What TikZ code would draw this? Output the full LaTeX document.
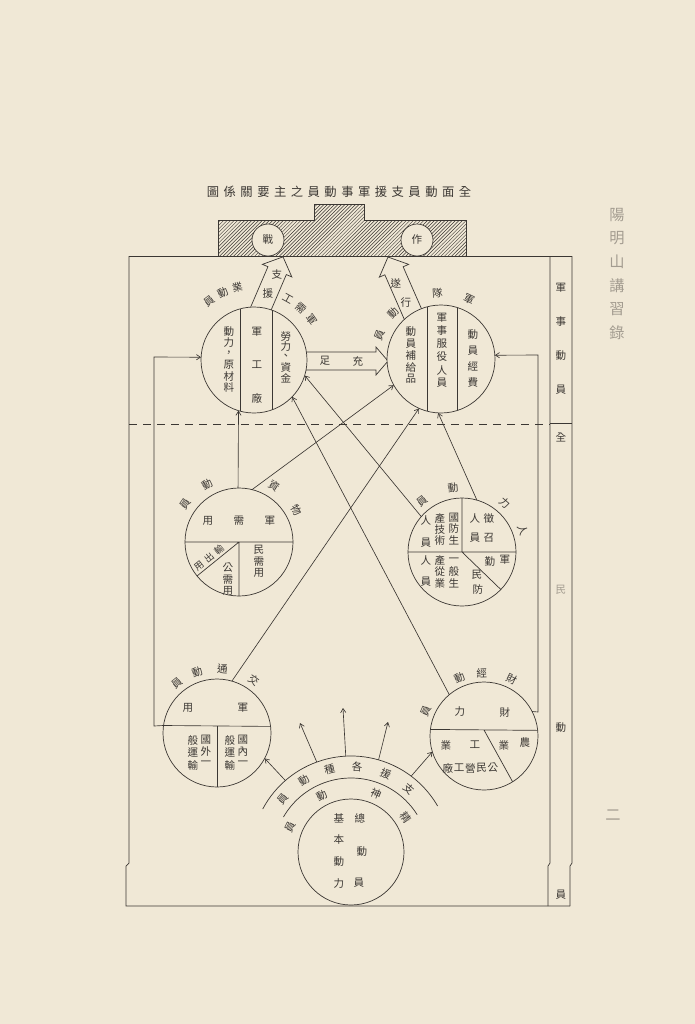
\documentclass[tikz,border=0pt]{standalone}
\usepackage{fontspec}
\newfontfamily\cjk{Noto Sans CJK TC}
\usetikzlibrary{arrows.meta,patterns}
\definecolor{paper}{HTML}{F0E8D6}
\definecolor{ink}{HTML}{3B3733}
\definecolor{faint}{HTML}{A39C90}

\tikzset{
  ring/.style={circle, draw=ink, fill=paper, line width=0.6pt, inner sep=0pt, outer sep=0pt, minimum size=#1*0.6mm},
  txt/.style={font=\cjk\fontsize{9}{9}\selectfont, text=ink, inner sep=0pt},
  smalltxt/.style={font=\cjk\fontsize{8}{8}\selectfont, text=ink, inner sep=0pt},
  ttl/.style={font=\cjk\fontsize{10.5}{10.5}\selectfont, text=ink, inner sep=0pt},
  margintxt/.style={font=\cjk\fontsize{13}{13}\selectfont, text=faint, inner sep=0pt},
  conn/.style={ink, line width=0.55pt, -{Straight Barb[length=3.5pt,width=4.5pt]}},
  plain/.style={ink, line width=0.6pt},
}

% label on a circle: name, centre, angle, radius, character
\newcommand\alab[5]{\node[txt, rotate={#3-90}] (#1) at ([shift={({-(#3)}:#4)}]#2.center) {#5};}
% vertical column: prefix, x, first y, step, characters
\newcommand\vcol[5]{\foreach \ch [count=\k from 0] in {#5} {\node[txt] (#1\k) at (#2,{#3+#4*\k}) {\ch};}}
% horizontal row: prefix, first x, y, step, characters
\newcommand\hrow[5]{\foreach \ch [count=\k from 0] in {#5} {\node[txt] (#1\k) at ({#2+#4*\k},#3) {\ch};}}
% hollow broad arrow: tail x, tail y, angle, length, shaft half width, head half width, head length
\newcommand\fatarrow[7]{\draw[plain, fill=paper, shift={(#1,#2)}, rotate=#3]
  (0,-#5) -- ({#4-#7},-#5) -- ({#4-#7},-#6) -- (#4,0) -- ({#4-#7},#6) -- ({#4-#7},#5) -- (0,#5) -- cycle;}

\begin{document}
\begin{tikzpicture}[x=0.3mm,y=-0.3mm]
\useasboundingbox[fill=paper] (0,0) rectangle (695,1024);

% title and page margin
\foreach \ch [count=\k from 0] in {圖,係,關,要,主,之,員,動,事,軍,援,支,員,動,面,全}
  \node[ttl] (t\k) at ({213+16.8*\k},192) {\ch};
\foreach \ch [count=\k from 0] in {陽,明,山,講,習,錄}
  \node[margintxt] (m\k) at (617,{215+23.5*\k}) {\ch};
\node[margintxt] (pg) at (613,815) {二};

% frame
\draw[plain] (129,256) -- (572,256);
\draw[plain] (129,256) -- (129,863) -- (126,866) -- (126,906) -- (570,906);
\draw[plain] (550,256) -- (550,863) -- (548,866) -- (548,906);
\draw[plain] (572,256) -- (572,863) -- (570,866) -- (570,906);
\draw[plain] (550,423) -- (572,423);
\draw[plain, dash pattern=on 2.4mm off 1.8mm] (129,424) -- (550,424);

% right column
\vcol{ca}{561}{288}{34}{軍,事,動,員}
\node[txt] (cb0) at (561,437) {全};
\node[txt, text=faint] (cb1) at (561,590) {民};
\node[txt] (cb2) at (561,728) {動};
\node[txt] (cb3) at (561,895) {員};

% broad arrows
\fatarrow{259.4}{312}{66.8}{60}{10}{16}{15}
\fatarrow{414.4}{317.5}{113.6}{66}{10}{16}{15}
\fatarrow{300}{361}{0}{88}{9}{14}{12}
\node[txt] (a1) at (277,274) {支};
\node[txt] (a2) at (268,294) {援};
\node[txt] (a3) at (396,283) {遂};
\node[txt] (a4) at (406,302) {行};
\node[txt] (a5) at (325,361) {足};
\node[txt] (a6) at (358,361) {充};

% combat block
\draw[plain, preaction={fill=paper}, pattern=north east lines, pattern color=ink]
  (218,256) -- (218,220) -- (314,220) -- (314,204) -- (364,204) -- (364,220) -- (466,220) -- (466,256) -- cycle;
\node[ring=16, txt] (zhan) at (268,240) {戰};
\node[ring=16, txt] (zuo) at (417,240) {作};

% circles
\node[ring=53] (GY) at (254,360) {};
\node[ring=54] (JD) at (441,359) {};
\node[ring=54] (WZ) at (239,542) {};
\node[ring=54] (RL) at (462,552) {};
\node[ring=54] (JT) at (217,733) {};
\node[ring=54] (CJ) at (484,736) {};
\node[ring=53] (ZD) at (351,852) {};

% bands round the base circle
\coordinate (rc) at (351,856);
\draw[plain] ([shift={(-152:100)}]rc) arc[start angle=-152, end angle=-30, radius=100];
\draw[plain] ([shift={(-150:78)}]rc) arc[start angle=-150, end angle=-32, radius=78];

% dividing lines inside circles
\draw[plain] (GY.105.3) -- (GY.-105.3) (GY.70.1) -- (GY.-70.1);
\draw[plain] (JD.105) -- (JD.-105) (JD.72.8) -- (JD.-72.8);
\draw[plain] (WZ.180) -- (WZ.0) (WZ.center) -- (WZ.270) (WZ.center) -- (WZ.219);
\draw[plain] (RL.90) -- (RL.center) (RL.180) -- (RL.0) (RL.center) -- (RL.-44);
\draw[plain] (217,726) -- (JT.270);
\draw[plain] (CJ.173.6) -- (CJ.6.4) (484,730) -- (CJ.-58);

% connectors
\coordinate (lb) at (154,726);
\coordinate (lt) at (154,357);
\coordinate (rb) at (538,712);
\coordinate (rt) at (538,355);
\coordinate (f1) at (300,723);
\coordinate (f2) at (343,708);
\coordinate (f3) at (388,722);
\draw[conn] (JT.7.5) -- (JT.172.5) -- (lb) -- (lt) -- (GY.177);
\draw[conn] (CJ.27) -- (rb) -- (rt) -- (JD.4);
\draw[conn] (WZ.91) -- (GY.253);
\draw[conn] (WZ.76) -- (JD.209);
\draw[conn] (JT.74) -- (JD.246);
\draw[conn] (RL.139) -- (GY.-17);
\draw[conn] (RL.74) -- (JD.267);
\draw[conn] (CJ.130) -- (GY.-44);
\draw[conn] ([shift={(-131:100)}]rc) -- (JT.-28);
\draw[conn] ([shift={(-110:100)}]rc) -- (f1);
\draw[conn] ([shift={(-93:100)}]rc) -- (f2);
\draw[conn] ([shift={(-74:100)}]rc) -- (f3);
\draw[conn] ([shift={(-53:100)}]rc) -- (CJ.197);

% military industry
\alab{g1}{GY}{127}{74}{員} \alab{g2}{GY}{115}{74}{動} \alab{g3}{GY}{103}{74}{業}
\alab{g4}{GY}{61}{70}{工} \alab{g5}{GY}{48}{70}{需} \alab{g6}{GY}{35}{70}{軍}
\vcol{gl}{229}{332}{11}{動,力,，,原,材,料}
\vcol{gm}{257}{332}{33}{軍,工,廠}
\vcol{gr}{286}{336}{10.5}{勞,力,、,資,金}

% armed forces
\alab{j1}{JD}{159}{66}{員} \alab{j2}{JD}{136}{66}{動}
\alab{j3}{JD}{93}{66}{隊} \alab{j4}{JD}{65}{66}{軍}
\vcol{jl}{411}{332}{11.8}{動,員,補,給,品}
\vcol{jm}{442}{318}{13}{軍,事,服,役,人,員}
\vcol{jr}{473}{335}{15.7}{動,員,經,費}

% materials
\alab{w1}{WZ}{145}{66}{員} \alab{w2}{WZ}{119}{66}{動}
\alab{w3}{WZ}{58}{66}{資} \alab{w4}{WZ}{29}{66}{物}
\hrow{wu}{208}{521}{31}{用,需,軍}
\node[smalltxt, rotate=39] (wd0) at (219,550) {輸};
\node[smalltxt, rotate=39] (wd1) at (209,558) {出};
\node[smalltxt, rotate=39] (wd2) at (199,566) {用};
\vcol{wa}{228}{568}{11.5}{公,需,用}
\vcol{wb}{259}{550}{11.5}{民,需,用}

% manpower
\alab{r1}{RL}{128}{65}{員} \alab{r2}{RL}{98}{65}{動}
\alab{r3}{RL}{49}{65}{力} \alab{r4}{RL}{20}{65}{人}
\vcol{ra}{454}{518}{11}{國,防,生}
\vcol{rb}{440}{518}{11}{產,技,術}
\vcol{rc}{426}{520}{23}{人,員}
\vcol{rd}{489}{518}{20}{徵,召}
\vcol{re}{475}{518}{20}{人,員}
\vcol{rf}{454}{560}{11.5}{一,般,生}
\vcol{rg}{440}{560}{11.5}{產,從,業}
\vcol{rh}{426}{560}{22}{人,員}
\node[txt] (ri) at (490,562) {勤};
\node[txt] (rj) at (505,560) {軍};
\node[txt] (rk) at (477,575) {民};
\node[txt] (rl) at (478,590) {防};

% transport
\alab{c1}{JT}{129}{64}{員} \alab{c2}{JT}{108}{64}{動}
\alab{c3}{JT}{85}{64}{通} \alab{c4}{JT}{55}{64}{交}
\node[txt] (ca1) at (188,708) {用};
\node[txt] (ca2) at (243,708) {軍};
\vcol{ta}{206}{740}{11.5}{國,外,一}
\vcol{tb}{193}{740}{12.5}{般,運,輸}
\vcol{tc}{243}{740}{11.5}{國,內,一}
\vcol{td}{230}{740}{12.5}{般,運,輸}

% finance
\alab{e1}{CJ}{157}{63}{員} \alab{e2}{CJ}{113}{63}{動}
\alab{e3}{CJ}{92}{63}{經} \alab{e4}{CJ}{64}{63}{財}
\node[txt] (ea) at (460,712) {力};
\node[txt] (eb) at (505,713) {財};
\node[txt] (ec) at (446,745) {業};
\node[txt] (ed) at (475,745) {工};
\node[txt] (ee) at (504,745) {業};
\node[txt] (ef) at (525,743) {農};
\hrow{eg}{448}{768}{11.2}{廠,工,營,民,公}

% base
\alab{o1}{rc}{140}{89}{員} \alab{o2}{rc}{122}{89}{動} \alab{o3}{rc}{104}{89}{種}
\alab{o4}{rc}{86}{89}{各} \alab{o5}{rc}{67}{89}{援} \alab{o6}{rc}{49}{89}{支}
\alab{i1}{rc}{154}{67}{員} \alab{i2}{rc}{116}{67}{動}
\alab{i3}{rc}{68}{67}{神} \alab{i4}{rc}{35}{67}{精}
\node[txt] (za) at (360,818) {總};
\node[txt] (zb) at (362,852) {動};
\node[txt] (zc) at (359,883) {員};
\vcol{zd}{339}{818}{21.7}{基,本,動,力}
\end{tikzpicture}
\end{document}
